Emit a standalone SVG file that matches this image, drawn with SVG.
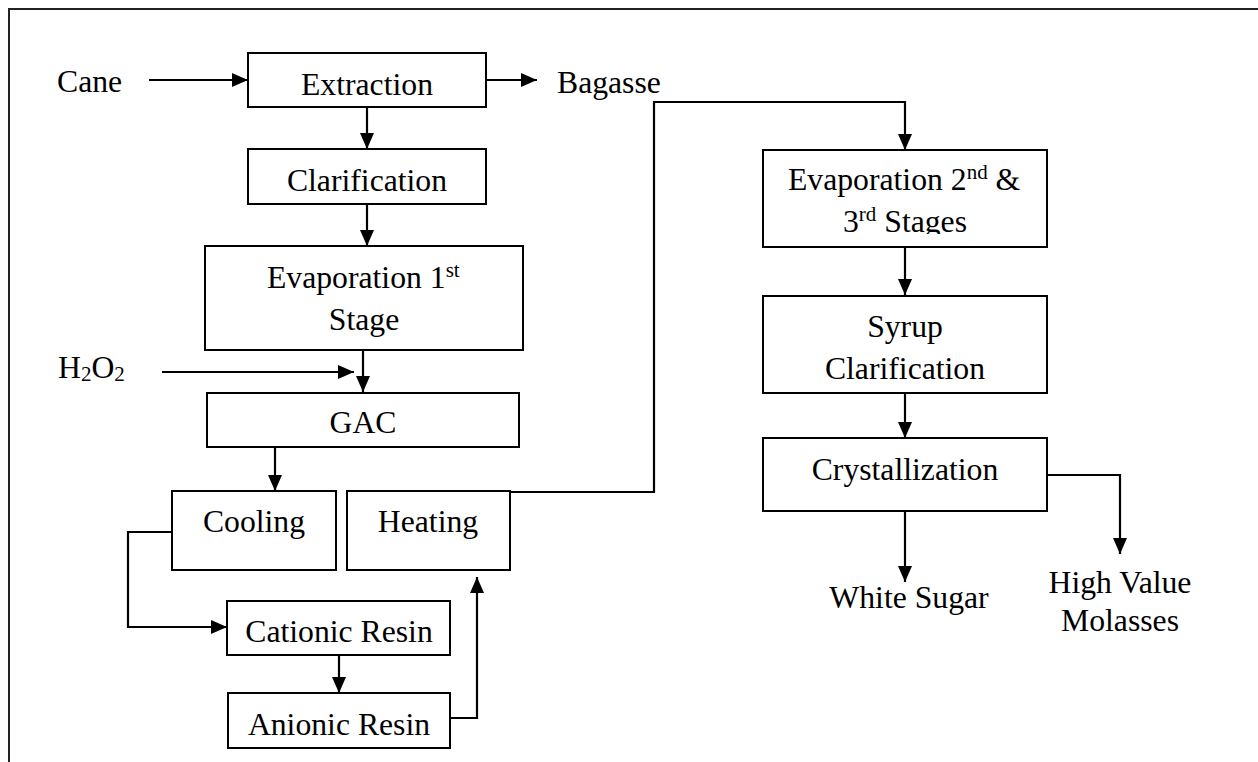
<svg xmlns="http://www.w3.org/2000/svg" width="1258" height="762" viewBox="0 0 1258 762">
<style>
.box{fill:#fff;stroke:#000;stroke-width:2}
.t{font-family:"Liberation Serif","Times New Roman",serif;font-size:31.7px;fill:#000}
.m{text-anchor:middle}
.c{fill:none;stroke:#000;stroke-width:2.2}
.sup{font-size:21px}
</style>
<defs>
<marker id="ah" viewBox="0 0 16 14" markerWidth="16" markerHeight="14" refX="16" refY="7" orient="auto" markerUnits="userSpaceOnUse">
<path d="M0,0 L16,7 L0,14 Z" fill="#000"/>
</marker>
<clipPath id="clipE2"><rect x="763" y="150" width="284" height="84"/></clipPath>
</defs>
<rect width="1258" height="762" fill="#fff"/>
<g id="frame"><path d="M9,762 V9 H1258" fill="none" stroke="#222" stroke-width="2"/></g>

<g id="connectors">
<path class="c" d="M149,80 H248" marker-end="url(#ah)"/>
<path class="c" d="M486,80 H537" marker-end="url(#ah)"/>
<path class="c" d="M367,107 V149" marker-end="url(#ah)"/>
<path class="c" d="M367,204 V246" marker-end="url(#ah)"/>
<path class="c" d="M162,372 H354" marker-end="url(#ah)"/>
<path class="c" d="M363,350 V392" marker-end="url(#ah)"/>
<path class="c" d="M275,443 V491" marker-end="url(#ah)"/>
<path class="c" d="M172,532 H128 V627 H227" marker-end="url(#ah)"/>
<path class="c" d="M339,655 V693" marker-end="url(#ah)"/>
<path class="c" d="M450,718 H477 V577" marker-end="url(#ah)"/>
<path class="c" d="M510,492 H654 V102 H905 V150" marker-end="url(#ah)"/>
<path class="c" d="M905,247 V295" marker-end="url(#ah)"/>
<path class="c" d="M905,393 V438" marker-end="url(#ah)"/>
<path class="c" d="M905,511 V582" marker-end="url(#ah)"/>
<path class="c" d="M1047,475 H1120 V554" marker-end="url(#ah)"/>
</g>

<g id="cane"><text class="t" x="57" y="92">Cane</text></g>
<g id="bagasse"><text class="t" x="557" y="93">Bagasse</text></g>
<g id="h2o2"><text class="t" x="58" y="378">H<tspan class="sup" dy="3">2</tspan><tspan dy="-3">O</tspan><tspan class="sup" dy="3">2</tspan></text></g>

<g id="extraction"><rect class="box" x="248" y="53" width="238" height="54"/><text class="t m" x="367" y="95">Extraction</text></g>
<g id="clarification"><rect class="box" x="248" y="149" width="238" height="55"/><text class="t m" x="367" y="191">Clarification</text></g>
<g id="evap1"><rect class="box" x="205" y="246" width="318" height="104"/>
<text class="t" x="267" y="288">Evaporation 1<tspan class="sup" dy="-11">st</tspan></text>
<text class="t m" x="364" y="330">Stage</text></g>
<g id="gac"><rect class="box" x="207" y="393" width="312" height="54"/><text class="t m" x="363" y="433">GAC</text></g>
<g id="cooling"><rect class="box" x="172" y="491" width="164" height="79"/><text class="t m" x="254" y="532">Cooling</text></g>
<g id="heating"><rect class="box" x="347" y="491" width="163" height="79"/><text class="t m" x="428" y="532">Heating</text></g>
<g id="cationic"><rect class="box" x="227" y="601" width="223" height="54"/><text class="t m" x="339" y="642">Cationic Resin</text></g>
<g id="anionic"><rect class="box" x="228" y="693" width="222" height="55"/><text class="t m" x="339" y="735">Anionic Resin</text></g>
<g id="evap2"><rect class="box" x="763" y="150" width="284" height="97"/>
<text class="t" x="788" y="190">Evaporation 2<tspan class="sup" dy="-11">nd</tspan><tspan dy="11"> &amp;</tspan></text>
<text class="t" x="843" y="232" clip-path="url(#clipE2)">3<tspan class="sup" dy="-11">rd</tspan><tspan dy="11"> Stages</tspan></text></g>
<g id="syrup"><rect class="box" x="763" y="296" width="284" height="97"/>
<text class="t m" x="905" y="337">Syrup</text><text class="t m" x="905" y="379">Clarification</text></g>
<g id="crystallization"><rect class="box" x="763" y="438" width="284" height="73"/><text class="t m" x="905" y="480">Crystallization</text></g>
<g id="whitesugar"><text class="t m" x="909" y="608">White Sugar</text></g>
<g id="molasses"><text class="t m" x="1120" y="593">High Value</text><text class="t m" x="1120" y="631">Molasses</text></g>
</svg>
